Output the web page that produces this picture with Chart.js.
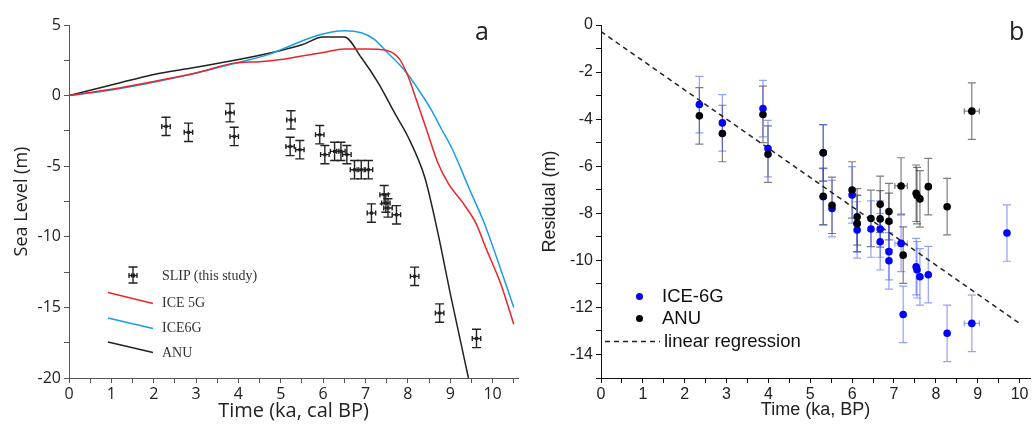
<!DOCTYPE html>
<html lang="en">
<head>
<meta charset="UTF-8">
<title>Sea level and residuals</title>
<script src="https://cdn.jsdelivr.net/npm/chart.js"></script>
<style>
    body { margin: 0; background: #fff; }
    #wrap { position: relative; width: 1035px; height: 437px; overflow: hidden; }
    canvas { position: absolute; top: 0; }
    #left { left: 0; }
    #right { left: 525px; }
    .tag { position: absolute; font-family: 'Open Sans', sans-serif; font-size: 25px; color: #222; line-height: 1; }
    .lgA { position: absolute; font-family: 'Liberation Serif', serif; font-size: 14px; color: #333; line-height: 1; white-space: nowrap; }
    .lgB { position: absolute; font-family: 'Liberation Sans', Arial, sans-serif; font-size: 18.5px; color: #111; line-height: 1; white-space: nowrap; }
    svg.sym { position: absolute; left: 0; top: 0; overflow: visible; }
</style>
</head>
<body>
<div id="wrap">
    <canvas id="left" width="525" height="437"></canvas>
    <canvas id="right" width="510" height="437"></canvas>

    <div class="tag" style="left:475px; top:18px;">a</div>
    <div class="tag" style="left:1009px; top:18px;">b</div>

    <!-- legend, panel a -->
    <svg class="sym" width="1035" height="437">
        <g stroke="#222" stroke-width="1.4" fill="none">
            <path d="M133 267v16M128.5 267h9M128.5 283h9M129 275.5h8M129 273v5M137 273v5"/>
        </g>
        <rect x="131" y="273.5" width="4" height="4" fill="#222"/>
        <line x1="108" y1="292.5" x2="153" y2="303.5" stroke="#e8262b" stroke-width="1.5"/>
        <line x1="108" y1="318" x2="153" y2="328.5" stroke="#1b9de6" stroke-width="1.5"/>
        <line x1="108" y1="342" x2="153" y2="352.5" stroke="#222" stroke-width="1.5"/>
        <!-- legend, panel b -->
        <circle cx="639.5" cy="296.5" r="3.5" fill="#0000ff"/>
        <circle cx="639.5" cy="318.5" r="3.5" fill="#000"/>
        <line x1="605" y1="341.5" x2="660" y2="341.5" stroke="#222" stroke-width="1.5" stroke-dasharray="5,4"/>
    </svg>
    <div class="lgA" style="left:162px; top:269px;">SLIP (this study)</div>
    <div class="lgA" style="left:162px; top:296px;">ICE 5G</div>
    <div class="lgA" style="left:162px; top:321px;">ICE6G</div>
    <div class="lgA" style="left:162px; top:346px;">ANU</div>
    <div class="lgB" style="left:662px; top:287px;">ICE-6G</div>
    <div class="lgB" style="left:662px; top:309px;">ANU</div>
    <div class="lgB" style="left:664px; top:332px;">linear regression</div>
</div>

<script>
    // ---- panel a: SLIP sea-level index points (ka, m) ----
    const slipAge   = [2.29, 2.82, 3.80, 3.90, 5.24, 5.22, 5.45, 5.92, 6.04, 6.27, 6.42, 6.56, 6.74, 6.90, 7.07, 7.14, 7.44, 7.48, 7.53, 7.73, 8.16, 8.75, 9.62];
    const slipLevel = [-2.18, -2.60, -1.21, -2.89, -1.72, -3.60, -3.83, -2.77, -4.18, -3.95, -3.95, -4.18, -5.25, -5.25, -5.25, -8.32, -7.02, -7.61, -7.96, -8.44, -12.8, -15.4, -17.2];
    const slipErrY  = [0.65, 0.65, 0.65, 0.65, 0.65, 0.65, 0.65, 0.65, 0.65, 0.65, 0.65, 0.65, 0.65, 0.65, 0.65, 0.65, 0.65, 0.65, 0.65, 0.65, 0.65, 0.65, 0.65];
    const slipErrX  = [0.1, 0.1, 0.1, 0.1, 0.1, 0.1, 0.1, 0.1, 0.1, 0.1, 0.1, 0.1, 0.1, 0.1, 0.1, 0.1, 0.1, 0.1, 0.1, 0.1, 0.1, 0.1, 0.1];

    // model curves
    const ice5gAge = [0, 1, 2, 3, 3.9, 4.5, 5, 5.5, 6, 6.5, 7, 7.5, 7.8, 8.0, 8.2, 8.44, 8.7, 8.95, 9.3, 9.6, 9.85, 10.2, 10.5];
    const ice5gSL  = [0, 0.45, 1.0, 1.6, 2.3, 2.4, 2.55, 2.8, 3.05, 3.3, 3.3, 3.2, 2.6, 1.4, -0.3, -2.4, -4.7, -6.2, -7.6, -9.0, -10.85, -13.4, -16.2];
    const ice6gAge = [0, 1, 2, 3, 4, 4.7, 5.2, 5.7, 6.2, 6.5, 6.9, 7.2, 7.5, 7.8, 8.0, 8.3, 8.55, 8.8, 9.05, 9.45, 9.8, 10.1, 10.5];
    const ice6gSL  = [0, 0.4, 0.95, 1.6, 2.35, 2.9, 3.5, 4.1, 4.5, 4.6, 4.45, 4.0, 3.1, 2.2, 1.5, 0.2, -1.0, -2.4, -3.8, -6.6, -9.0, -11.5, -15.0];
    const anuAge   = [0, 1, 2, 3, 4, 5, 5.5, 6, 6.5, 6.9, 7.3, 7.7, 8.0, 8.4, 8.7, 9.0, 9.43];
    const anuSL    = [0, 0.75, 1.5, 2.0, 2.55, 3.2, 3.6, 4.15, 4.15, 2.7, 0.9, -1.3, -2.9, -5.8, -9.6, -14.0, -20.0];

    // ---- panel b: residuals (ka, m) ----
    const resAge   = [2.35, 2.90, 3.87, 3.99, 5.31, 5.31, 5.52, 6.00, 6.12, 6.12, 6.45, 6.67, 6.67, 6.88, 6.88, 7.17, 7.22, 7.53, 7.55, 7.62, 7.82, 8.27, 8.86, 9.70];
    const resIce6g = [-3.38, -4.16, -3.55, -5.25, -5.43, -7.30, -7.80, -7.22, -8.71, -8.45, -8.67, -8.67, -9.21, -9.63, -10.02, -9.28, -12.30, -10.27, -10.40, -10.70, -10.61, -13.10, -12.68, -8.84];
    const resAnu   = [-3.86, -4.61, -3.80, -5.49, -5.43, -7.28, -7.66, -7.01, -8.15, -8.43, -8.22, -7.62, -8.24, -7.93, -8.34, -6.84, -9.78, -7.15, -7.25, -7.39, -6.87, -7.72, -3.66, null];
    const resErrY  = [1.2, 1.2, 1.2, 1.2, 1.2, 1.2, 1.2, 1.2, 1.2, 1.2, 1.2, 1.2, 1.2, 1.2, 1.2, 1.2, 1.2, 1.2, 1.2, 1.2, 1.2, 1.2, 1.2, 1.2];
    const resErrX  = [0, 0, 0, 0, 0, 0, 0, 0, 0, 0, 0, 0, 0, 0, 0, 0.15, 0, 0, 0, 0, 0, 0, 0.18, 0];
    const regAge   = [0, 10];
    const regRes   = [-0.28, -12.68];

    const pts = (xs, ys) => xs.map((x, i) => ({ x: x, y: ys[i] }));

    // draws error bars for datasets that carry errY / errX
    const errorBars = {
        id: 'errorBars',
        beforeDatasetsDraw(chart) {
            const ctx = chart.ctx, sx = chart.scales.x, sy = chart.scales.y;
            chart.data.datasets.forEach(ds => {
                if (!ds.errY) return;
                ctx.save();
                ctx.strokeStyle = ds.errColor;
                ctx.lineWidth = ds.errWidth;
                const c = ds.capHalf;
                ds.data.forEach((p, j) => {
                    if (p.y === null) return;
                    const px = sx.getPixelForValue(p.x), py = sy.getPixelForValue(p.y);
                    const t = sy.getPixelForValue(p.y + ds.errY[j]), b = sy.getPixelForValue(p.y - ds.errY[j]);
                    ctx.beginPath();
                    ctx.moveTo(px, t); ctx.lineTo(px, b);
                    ctx.moveTo(px - c, t); ctx.lineTo(px + c, t);
                    ctx.moveTo(px - c, b); ctx.lineTo(px + c, b);
                    const e = ds.errX ? ds.errX[j] : 0;
                    if (e) {
                        const l = sx.getPixelForValue(p.x - e), r = sx.getPixelForValue(p.x + e);
                        const h = ds.capXHalf;
                        ctx.moveTo(l, py); ctx.lineTo(r, py);
                        ctx.moveTo(l, py - h); ctx.lineTo(l, py + h);
                        ctx.moveTo(r, py - h); ctx.lineTo(r, py + h);
                    }
                    ctx.stroke();
                });
                ctx.restore();
            });
        }
    };

    const keepStep = step => scale => {
        scale.ticks = scale.ticks.filter(t => Math.abs(t.value / step - Math.round(t.value / step)) < 1e-6);
    };

    function axis(opts) {
        return Object.assign({
            type: 'linear',
            border: { display: true, color: opts.lineColor, width: 1 },
            grid: { drawOnChartArea: false, drawTicks: true, tickLength: 5, color: opts.lineColor },
        }, opts.extra);
    }

    // ---- panel a ----
    const fontA = "'Open Sans', sans-serif";
    new Chart(document.getElementById('left'), {
        type: 'scatter',
        data: {
            datasets: [
                {
                    label: 'SLIP (this study)',
                    data: pts(slipAge, slipLevel),
                    errY: slipErrY, errX: slipErrX, errColor: '#222', errWidth: 1.4, capHalf: 4.5, capXHalf: 2.5,
                    pointStyle: 'rect', pointRadius: 2.2, backgroundColor: '#222', borderColor: '#222', borderWidth: 0
                },
                {
                    label: 'ICE 5G', type: 'line', data: pts(ice5gAge, ice5gSL),
                    borderColor: '#e8262b', borderWidth: 1.5, pointRadius: 0, cubicInterpolationMode: 'monotone', fill: false
                },
                {
                    label: 'ICE6G', type: 'line', data: pts(ice6gAge, ice6gSL),
                    borderColor: '#1b9de6', borderWidth: 1.5, pointRadius: 0, cubicInterpolationMode: 'monotone', fill: false
                },
                {
                    label: 'ANU', type: 'line', data: pts(anuAge, anuSL),
                    borderColor: '#222', borderWidth: 1.5, pointRadius: 0, cubicInterpolationMode: 'monotone', fill: false
                }
            ]
        },
        options: {
            responsive: false,
            animation: false,
            layout: { padding: { top: 25, right: 7, left: 0, bottom: 0 } },
            plugins: { legend: { display: false }, tooltip: { enabled: false } },
            scales: {
                x: axis({ lineColor: '#555', extra: {
                    min: 0, max: 10.6,
                    afterFit: s => { s.height = 59; },
                    afterBuildTicks: keepStep(0.5),
                    ticks: { stepSize: 0.5, includeBounds: false, padding: 2, maxRotation: 0, minRotation: 0, autoSkip: false,
                        color: '#222', font: { family: fontA, size: 16 },
                        callback: v => Number.isInteger(v) ? v : '' },
                    title: { display: true, text: 'Time (ka, cal BP)', color: '#222', font: { family: fontA, size: 20 },
                        padding: { top: 0, bottom: 14 } }
                }}),
                y: axis({ lineColor: '#555', extra: {
                    min: -20, max: 5,
                    afterFit: s => { s.width = 69; },
                    afterBuildTicks: keepStep(2.5),
                    ticks: { stepSize: 2.5, includeBounds: false, padding: 3, autoSkip: false, color: '#222', font: { family: fontA, size: 16 },
                        callback: v => (v % 5 === 0) ? v : '' },
                    title: { display: true, text: 'Sea Level (m)', color: '#222', font: { family: fontA, size: 18 },
                        padding: { top: 11, bottom: 0 } }
                }})
            }
        },
        plugins: [errorBars]
    });

    // ---- panel b ----
    const fontB = "'Liberation Sans', Arial, sans-serif";
    new Chart(document.getElementById('right'), {
        type: 'scatter',
        data: {
            datasets: [
                {
                    label: 'ANU', data: pts(resAge, resAnu),
                    errY: resErrY, errX: resErrX, errColor: 'rgba(40,40,40,0.6)', errWidth: 1.2, capHalf: 4, capXHalf: 3,
                    pointRadius: 3.8, backgroundColor: '#000', borderColor: '#000', borderWidth: 0
                },
                {
                    label: 'ICE-6G', data: pts(resAge, resIce6g),
                    errY: resErrY, errX: resErrX, errColor: 'rgba(60,80,255,0.55)', errWidth: 1.2, capHalf: 4, capXHalf: 3,
                    pointRadius: 3.8, backgroundColor: '#0000ff', borderColor: '#0000ff', borderWidth: 0
                },
                {
                    label: 'linear regression', type: 'line', data: pts(regAge, regRes),
                    borderColor: '#222', borderWidth: 1.5, borderDash: [5, 4], pointRadius: 0, fill: false
                }
            ]
        },
        options: {
            responsive: false,
            animation: false,
            layout: { padding: { top: 25, right: 5, left: 0, bottom: 0 } },
            plugins: { legend: { display: false }, tooltip: { enabled: false } },
            scales: {
                x: axis({ lineColor: '#111', extra: {
                    min: 0, max: 10.25,
                    afterFit: s => { s.height = 59; },
                    afterBuildTicks: keepStep(0.5),
                    ticks: { stepSize: 0.5, includeBounds: false, padding: 2, maxRotation: 0, minRotation: 0, autoSkip: false,
                        color: '#222', font: { family: fontB, size: 16 },
                        callback: v => Number.isInteger(v) ? v : '' },
                    title: { display: true, text: 'Time (ka, BP)', color: '#222', font: { family: fontB, size: 18 },
                        padding: { top: 0, bottom: 16 } }
                }}),
                y: axis({ lineColor: '#111', extra: {
                    min: -15, max: 0,
                    afterFit: s => { s.width = 76; },
                    afterBuildTicks: keepStep(1),
                    ticks: { stepSize: 1, includeBounds: false, padding: 3, autoSkip: false, color: '#222', font: { family: fontB, size: 16 },
                        callback: v => (v % 2 === 0) ? v : '' },
                    title: { display: true, text: 'Residual (m)', color: '#222', font: { family: fontB, size: 18 },
                        padding: { top: 14, bottom: 0 } }
                }})
            }
        },
        plugins: [errorBars]
    });
</script>
</body>
</html>
